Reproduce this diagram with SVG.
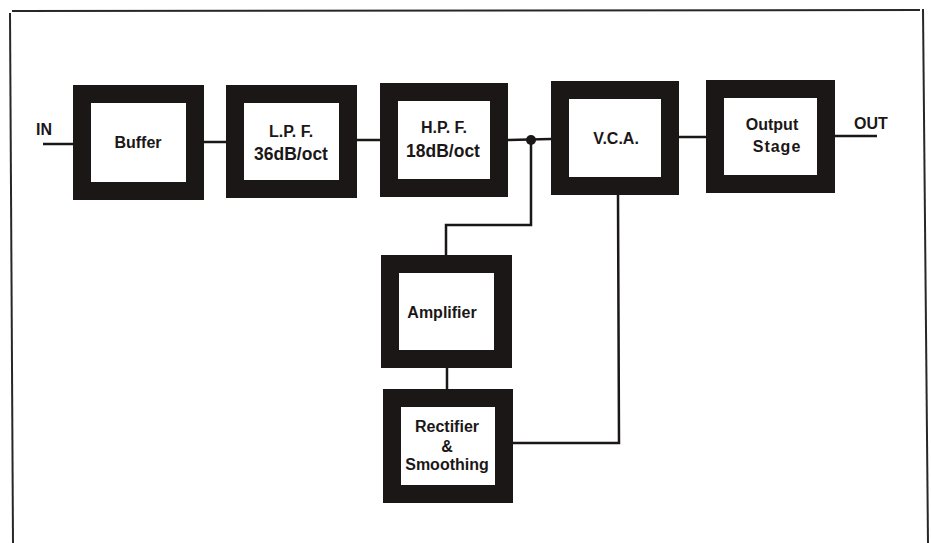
<svg xmlns="http://www.w3.org/2000/svg" width="931" height="543" viewBox="0 0 931 543">
<style>
.blk{fill:#ffffff;stroke:#1b1717;stroke-width:18}
.ln{fill:none;stroke:#1b1717;stroke-width:2.5}
.fr{fill:none;stroke:#2a2626;stroke-width:2}
.big{font-size:17.5px}
text{font-family:"Liberation Sans",Arial,sans-serif;font-weight:bold;font-size:16px;fill:#1b1717;text-anchor:middle}
</style>
<rect width="931" height="543" fill="#ffffff"/>
<g id="frame">
<line class="fr" x1="12" y1="11" x2="920" y2="10"/>
<line class="fr" x1="10" y1="13" x2="13" y2="543"/>
<line class="fr" x1="923" y1="9" x2="928" y2="543"/>
</g>
<g id="connectors">
<line class="ln" x1="43" y1="144" x2="73" y2="144"/>
<line class="ln" x1="204" y1="142" x2="226" y2="142"/>
<line class="ln" x1="357" y1="140" x2="380" y2="140"/>
<line class="ln" x1="508" y1="140" x2="551" y2="139"/>
<circle cx="531" cy="140" r="5" fill="#1b1717"/>
<polyline class="ln" points="531,140 531,225 446,225 446,255"/>
<line class="ln" x1="679" y1="137" x2="706" y2="137"/>
<line class="ln" x1="835" y1="136" x2="877" y2="136"/>
<line class="ln" x1="447" y1="368" x2="447" y2="389"/>
<polyline class="ln" points="513,443 619,443 618,195"/>
</g>
<g id="in"><text x="44" y="135">IN</text></g>
<g id="out"><text x="871" y="129">OUT</text></g>
<g id="buffer">
<rect class="blk" x="82" y="94" width="113" height="97"/>
<text x="138" y="148">Buffer</text>
</g>
<g id="lpf">
<rect class="blk" x="235" y="94" width="113" height="95"/>
<text x="291" y="137">L.P. F.</text>
<text class="big" x="291" y="160">36dB/oct</text>
</g>
<g id="hpf">
<rect class="blk" x="389" y="92" width="110" height="96"/>
<text x="444" y="133">H.P. F.</text>
<text class="big" x="443" y="157">18dB/oct</text>
</g>
<g id="vca">
<rect class="blk" x="560" y="90" width="110" height="96"/>
<text x="616" y="144">V.C.A.</text>
</g>
<g id="output">
<rect class="blk" x="715" y="89" width="111" height="95"/>
<text x="772" y="130">Output</text>
<text x="777" y="152" letter-spacing="1">Stage</text>
</g>
<g id="amplifier">
<rect class="blk" x="390" y="264" width="113" height="95"/>
<text x="442" y="318">Amplifier</text>
</g>
<g id="rectifier">
<rect class="blk" x="392" y="398" width="112" height="96"/>
<text x="447" y="432">Rectifier</text>
<text x="447" y="452">&amp;</text>
<text x="447" y="470">Smoothing</text>
</g>
</svg>
